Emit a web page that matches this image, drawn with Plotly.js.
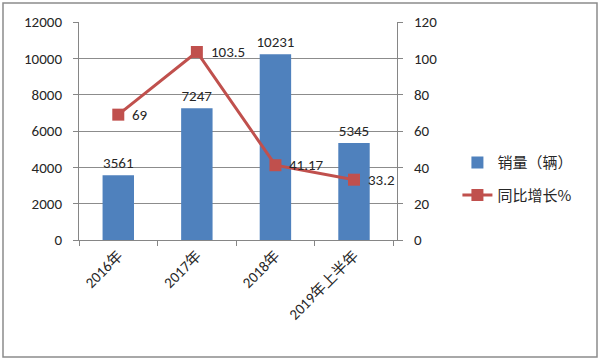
<!DOCTYPE html>
<html><head><meta charset="utf-8">
<script src="https://cdn.plot.ly/plotly-3.0.1.min.js"></script>
<style>body{margin:0;padding:0;background:#fff}#c{width:600px;height:361px}</style>
</head><body><div id="c"></div>
<script>
const categories = ["2016年", "2017年", "2018年", "2019年上半年"];
const sales = [3561, 7247, 10231, 5345];
const growth = [69, 103.5, 41.17, 33.2];
const salesName = "销量（辆）";
const growthName = "同比增长%";
const leftTicks = [0, 2000, 4000, 6000, 8000, 10000, 12000];
const rightTicks = [0, 20, 40, 60, 80, 100, 120];

const FONT = "Carlito, 'Open Sans', 'Noto Sans CJK SC', sans-serif";
const L = 79, R = 397, T = 22, B = 240;
const pw = R - L, ph = B - T;

const traces = [
  {type: "bar", x: categories, y: sales, name: salesName, width: 0.4, legendgroup: "a",
   marker: {color: "#4F81BD"}, text: sales.map(String), textposition: "outside", constraintext: "none",
   textfont: {size: 15, color: "#262626", family: FONT}, cliponaxis: false},
  {type: "scatter", mode: "lines+markers", x: categories, y: growth, yaxis: "y2", legendgroup: "b",
   name: growthName, line: {color: "#C0504D", width: 3},
   marker: {symbol: "square", size: 12, color: "#C0504D"}, cliponaxis: false}
];

const annotations = growth.map((v, i) => ({
  x: categories[i], y: v, xref: "x", yref: "y2", text: String(v), showarrow: false,
  xanchor: "left", yanchor: "middle", xshift: 12, font: {size: 15, color: "#262626", family: FONT}
}));

const layout = {
  width: 600, height: 361,
  margin: {l: L, r: 600 - R, t: T, b: 361 - B, pad: 0},
  paper_bgcolor: "#fff", plot_bgcolor: "#fff",
  font: {family: FONT, size: 15, color: "#262626"},
  showlegend: true,
  legend: {x: 1.19, y: 0.43, xanchor: "left", yanchor: "top", traceorder: "grouped",
           font: {size: 15, family: "'Noto Sans CJK SC', sans-serif"},
           tracegroupgap: 10, itemwidth: 30, bgcolor: "rgba(0,0,0,0)"},
  xaxis: {type: "category", tickangle: -45, showline: true, linecolor: "#868686", linewidth: 1,
          ticks: "outside", ticklen: 5, tickcolor: "#868686", tickson: "boundaries",
          tickfont: {size: 15, family: FONT}, showgrid: false, zeroline: false},
  yaxis: {range: [0, 12000], tickvals: leftTicks, ticktext: leftTicks.map(String),
          showline: true, linecolor: "#868686", ticks: "outside", ticklen: 5, tickcolor: "#868686",
          showgrid: true, gridcolor: "#8c8c8c", gridwidth: 1, zeroline: false,
          tickfont: {size: 15, family: FONT}, ticklabelstandoff: 8},
  yaxis2: {range: [0, 120], tickvals: rightTicks, ticktext: rightTicks.map(String), overlaying: "y", side: "right",
           showline: true, linecolor: "#868686", ticks: "outside", ticklen: 5, tickcolor: "#868686",
           showgrid: false, zeroline: false, tickfont: {size: 15, family: FONT}, ticklabelstandoff: 8},
  annotations: annotations,
  shapes: [{type: "rect", xref: "paper", yref: "paper",
            x0: (3 - L) / pw, x1: (597 - L) / pw, y0: (B - 357) / ph, y1: (B - 3) / ph,
            line: {color: "#8c8c8c", width: 1.5}, fillcolor: "rgba(0,0,0,0)", layer: "below"}]
};

Plotly.newPlot("c", traces, layout, {staticPlot: true});
</script></body></html>
